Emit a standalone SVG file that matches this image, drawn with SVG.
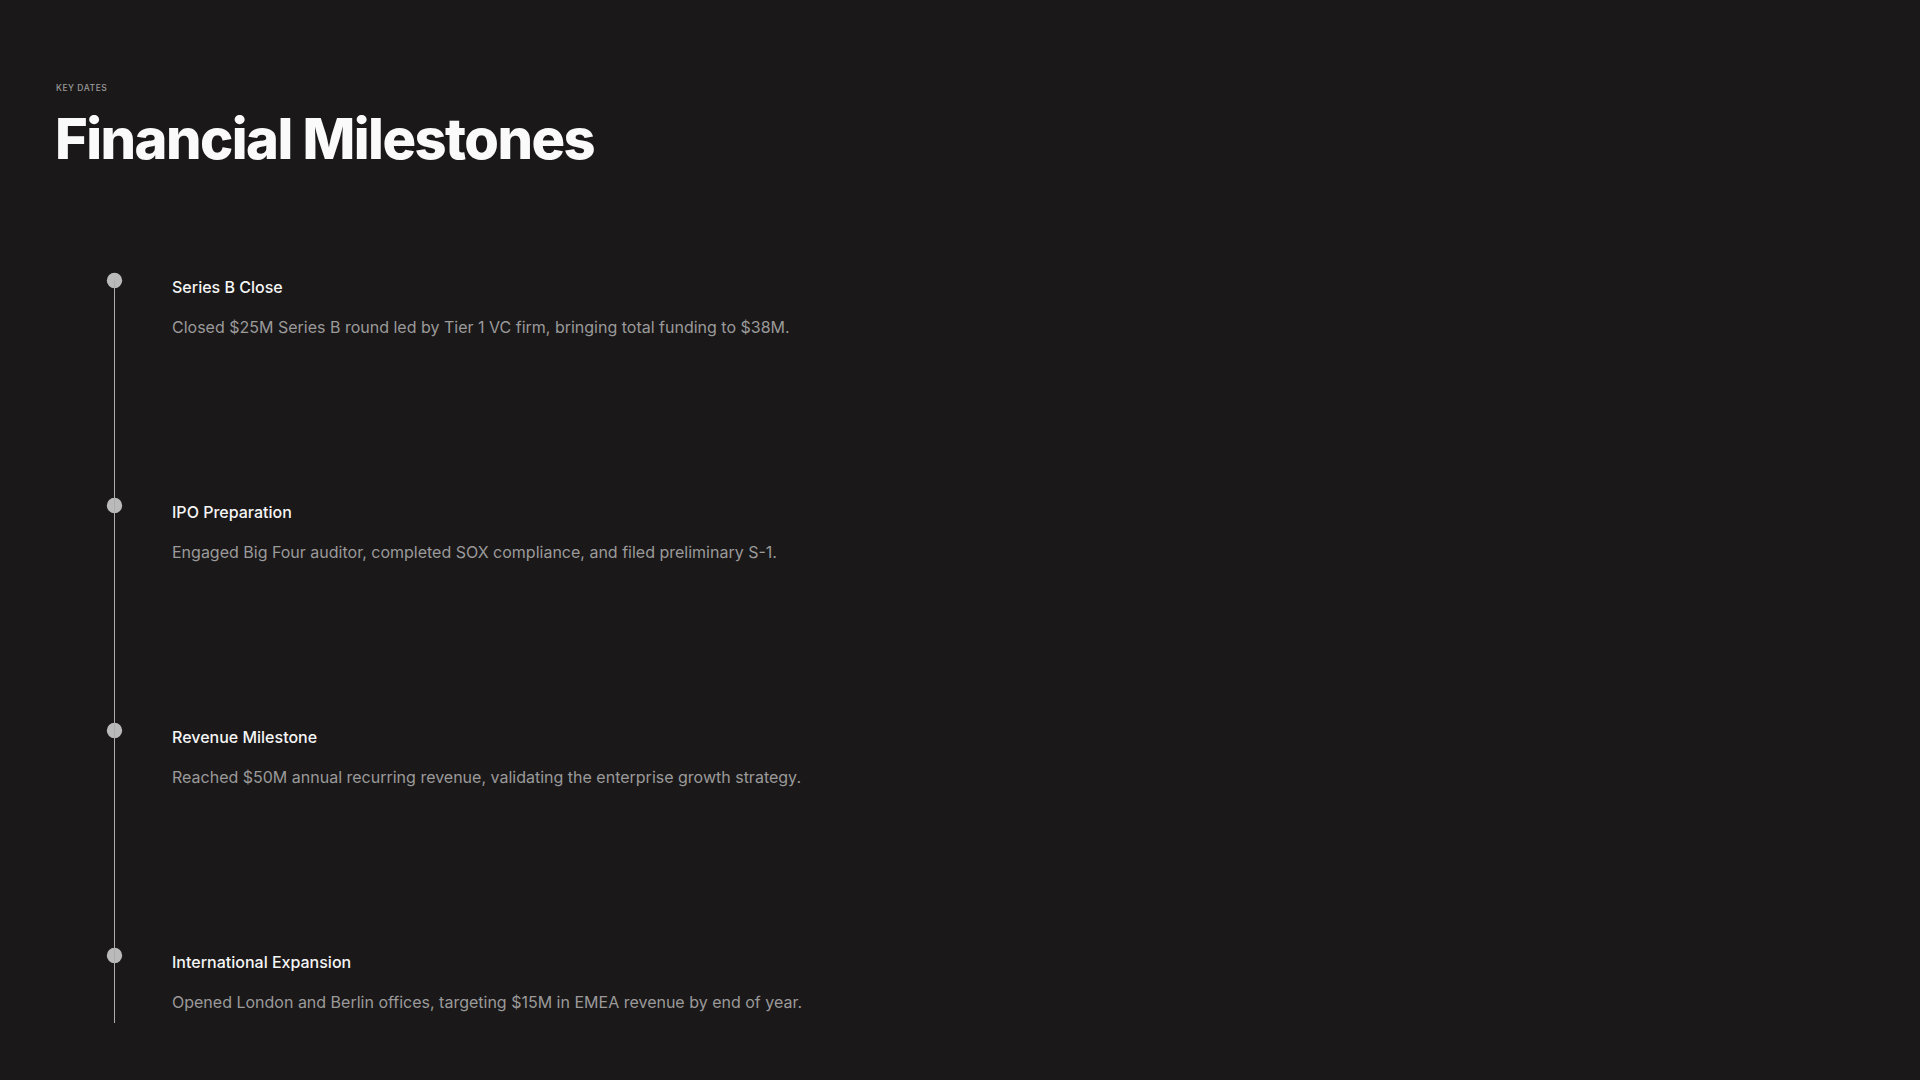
<svg xmlns="http://www.w3.org/2000/svg" width="1920" height="1080" viewBox="0 0 1920 1080">
<style>
.eyebrow{font-family:Inter,"Liberation Sans",sans-serif;font-size:8.5px;letter-spacing:0.55px;fill:#9a9a9a;font-weight:500}
.h1{font-family:Inter,"Liberation Sans",sans-serif;font-size:56px;font-weight:800;fill:#fafafa;letter-spacing:-1.55px}
.mt{font-family:Inter,"Liberation Sans",sans-serif;font-size:16px;font-weight:500;fill:#f5f5f5}
.md{font-family:Inter,"Liberation Sans",sans-serif;font-size:16px;fill:#9a9a9a}
.dot{fill:#bababa}
.rail{stroke:#acacac;stroke-width:1}
</style>
<rect width="1920" height="1080" fill="#1a1819"/>
<text class="eyebrow" x="56" y="91">KEY DATES</text>
<text class="h1" x="55" y="159">Financial Milestones</text>
<g id="m1">
<circle class="dot" cx="114.5" cy="280.5" r="7.7"/>
<text class="mt" x="172" y="293">Series B Close</text>
<text class="md" x="172" y="333">Closed $25M Series B round led by Tier 1 VC firm, bringing total funding to $38M.</text>
</g>
<g id="m2">
<circle class="dot" cx="114.5" cy="505.5" r="7.7"/>
<text class="mt" x="172" y="518">IPO Preparation</text>
<text class="md" x="172" y="558">Engaged Big Four auditor, completed SOX compliance, and filed preliminary S-1.</text>
</g>
<g id="m3">
<circle class="dot" cx="114.5" cy="730.5" r="7.7"/>
<text class="mt" x="172" y="743">Revenue Milestone</text>
<text class="md" x="172" y="783">Reached $50M annual recurring revenue, validating the enterprise growth strategy.</text>
</g>
<g id="m4">
<circle class="dot" cx="114.5" cy="955.5" r="7.7"/>
<text class="mt" x="172" y="968">International Expansion</text>
<text class="md" x="172" y="1008">Opened London and Berlin offices, targeting $15M in EMEA revenue by end of year.</text>
</g>
<g id="connectors">
<line class="rail" x1="114.5" y1="280.5" x2="114.5" y2="1023"/>
</g>
</svg>
